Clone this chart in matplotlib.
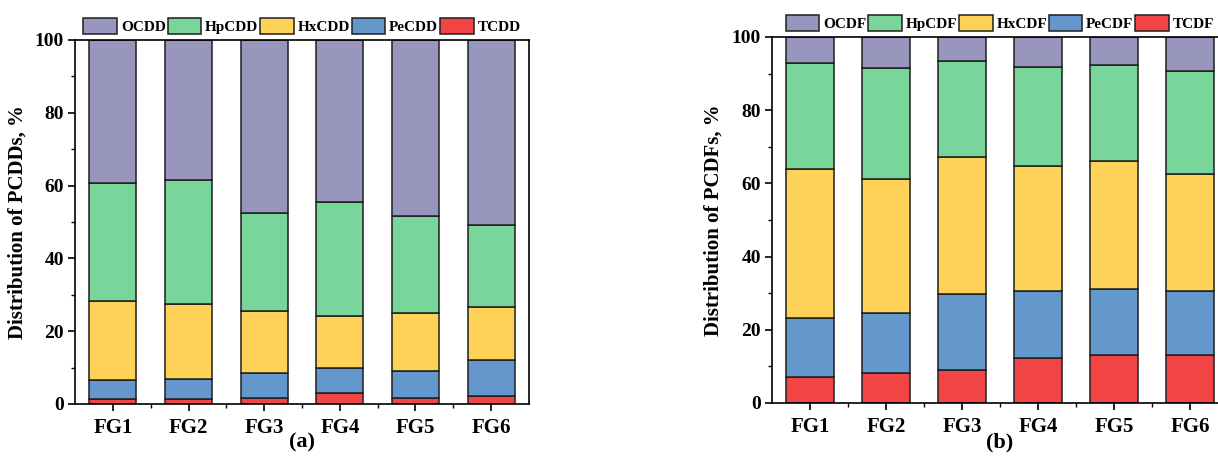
import matplotlib
matplotlib.use("Agg")
import matplotlib.pyplot as plt
import numpy as np
from matplotlib.ticker import MultipleLocator, FixedLocator

plt.rcParams['font.family'] = ['Liberation Serif', 'DejaVu Serif']
plt.rcParams['font.weight'] = 'bold'

categories = ["FG1", "FG2", "FG3", "FG4", "FG5", "FG6"]

# PCDDs (%), bottom -> top
TCDD = [1.4, 1.4, 1.7, 2.9, 1.6, 2.2]
PeCDD = [5.2, 5.4, 6.7, 7.1, 7.5, 9.8]
HxCDD = [21.7, 20.8, 17.2, 14.3, 16.0, 14.6]
HpCDD = [32.5, 33.8, 26.8, 31.1, 26.5, 22.6]
OCDD = [39.2, 38.6, 47.6, 44.6, 48.4, 50.8]

# PCDFs (%), bottom -> top
TCDF = [7.1, 8.2, 8.9, 12.3, 13.1, 13.1]
PeCDF = [16.0, 16.3, 21.0, 18.2, 18.1, 17.4]
HxCDF = [40.9, 36.8, 37.2, 34.2, 35.0, 32.0]
HpCDF = [28.9, 30.1, 26.4, 27.2, 26.2, 28.3]
OCDF = [7.1, 8.6, 6.5, 8.1, 7.6, 9.2]

colors = {"T": "#F24545", "Pe": "#6497CB", "Hx": "#FDD257", "Hp": "#78D69B", "O": "#9896BC"}

fig = plt.figure(figsize=(12.18, 4.57), dpi=100)
ax1 = fig.add_axes([0.0616, 0.116, 0.3727, 0.7965])
ax2 = fig.add_axes([0.6338, 0.1182, 0.3744, 0.8009])


def draw(ax, series, names, ylabel, panel):
    x = np.arange(len(categories))
    bottom = np.zeros(len(categories))
    handles = {}
    for (key, vals), name in zip(series, names):
        b = ax.bar(x, vals, width=0.62, bottom=bottom, color=colors[key],
                   edgecolor="#1e1e1e", linewidth=1.1, label=name, zorder=2)
        handles[name] = b
        bottom = bottom + np.array(vals)
    ax.set_xlim(-0.5, len(categories) - 0.5)
    ax.set_ylim(0, 100)
    ax.set_xticks(x)
    ax.set_xticklabels(categories, fontsize=15, fontweight='bold')
    ax.xaxis.set_minor_locator(FixedLocator(np.arange(0.5, len(categories) - 1, 1.0)))
    ax.yaxis.set_major_locator(MultipleLocator(20))
    ax.yaxis.set_minor_locator(MultipleLocator(10))
    ax.tick_params(axis='y', labelsize=14, pad=3)
    for lab in ax.get_yticklabels():
        lab.set_fontweight('bold')
    ax.tick_params(which='major', direction='out', length=5, width=1.2)
    ax.tick_params(which='minor', direction='out', length=3, width=1.0)
    ax.tick_params(axis='x', pad=5)
    for s in ax.spines.values():
        s.set_linewidth(1.2)
    ax.set_ylabel(ylabel, fontsize=15, fontweight='bold')
    ax.yaxis.set_label_coords(-0.105, 0.5)
    ax.text(0.5, -0.107, panel, transform=ax.transAxes, ha='center', va='center',
            fontsize=16, fontweight='bold')
    order = list(reversed(names))
    ax.legend([handles[n] for n in order], order, loc='lower center',
              bbox_to_anchor=(0.5, 1.0), ncol=5, frameon=False,
              handlelength=2.2, handleheight=1.25, handletextpad=0.25,
              columnspacing=0.12, borderaxespad=0.25, borderpad=0.15,
              prop={'size': 11, 'weight': 'bold'})


draw(ax1, [("T", TCDD), ("Pe", PeCDD), ("Hx", HxCDD), ("Hp", HpCDD), ("O", OCDD)],
     ["TCDD", "PeCDD", "HxCDD", "HpCDD", "OCDD"], "Distribution of PCDDs, %", "(a)")
draw(ax2, [("T", TCDF), ("Pe", PeCDF), ("Hx", HxCDF), ("Hp", HpCDF), ("O", OCDF)],
     ["TCDF", "PeCDF", "HxCDF", "HpCDF", "OCDF"], "Distribution of PCDFs, %", "(b)")

fig.savefig("out.png", dpi=100)
